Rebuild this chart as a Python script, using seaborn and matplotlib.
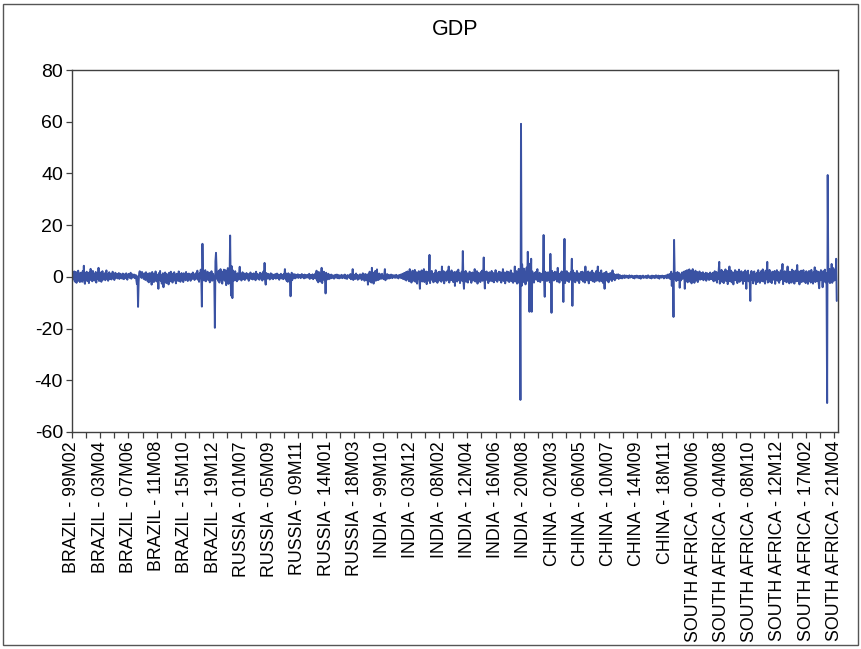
# GDP panel series (BRICS), EViews-style stacked line chart
import numpy as np
import pandas as pd
import matplotlib
matplotlib.use("Agg")
import matplotlib.pyplot as plt
from matplotlib.patches import Rectangle
from matplotlib.ticker import MultipleLocator
import seaborn as sns

# --- data: monthly values, 99M02 .. 21M08 for each country -------------------

brazil = [
    0.8, -1.2, 1.5, -0.6, 2.1, -1.8, 0.4, 1.9, -2.3, 1.1,
    -0.7, 2.4, -1.5, 0.9, -2.0, 1.6, -0.3, 1.2, -1.9, 2.2,
    -1.0, 4.3, -2.1, -2.7, 1.4, -0.8, 2.0, -1.6, 0.5, 1.3,
    -2.4, 1.8, -0.9, 3.1, -1.3, 0.7, -1.7, 2.3, -0.5, 1.0,
    -1.4, 0.6, 1.9, -2.2, 0.3, 1.5, -0.8, 3.5, -1.6, 0.9,
    -0.4, 1.7, -1.9, 0.8, 2.2, -1.1, 0.5, -0.6, 1.4, -1.3,
    0.9, 2.5, -0.7, 1.1, -1.5, 0.4, 1.8, -0.9, 0.6, 1.2,
    -1.0, 0.3, 2.0, -0.5, 1.3, -1.2, 0.8, 1.6, -0.4, 0.7,
    1.1, -0.6, 0.9, 1.5, -0.8, 0.5, 1.2, -0.3, 0.8, -0.7,
    1.3, 0.4, -0.9, 1.0, 0.6, -0.5, 1.4, 0.2, -1.1, 0.9,
    0.5, 1.2, -0.4, 0.8, 1.6, -0.7, 0.3, 1.0, -0.2, 0.6,
    0.9, -0.5, 0.4, 0.7, -1.3, -2.8, 0.2, -11.6, -2.0, 1.5,
    2.2, 0.8, 1.6, -0.4, 1.9, 0.5, 1.1, -0.8, 1.4, 0.6,
    -1.2, 1.8, -0.6, 0.9, -1.7, 1.3, -2.1, 0.7, 1.5, -1.4,
    0.6, -3.0, 1.9, -0.9, 1.2, -2.0, 0.8, -1.6, 2.1, -0.7,
    1.0, -1.9, 0.4, -4.6, 1.5, -0.8, 2.3, -1.5, 0.6, -2.6,
    -0.4, 1.4, -4.0, 0.9, -1.8, 1.7, -0.6, -2.4, 1.1, -1.2,
    0.7, -2.9, 1.6, -0.5, -1.7, 2.0, -1.1, 0.4, -2.2, 1.3,
    -0.9, 1.8, -1.4, 0.5, -2.5, 1.2, -0.3, 0.9, -1.6, 2.1,
    -0.7, 1.0, -1.9, 0.6, 1.5, -1.2, 0.3, -2.0, 1.4, -0.6,
    0.8, -1.3, 1.9, -0.5, 1.1, -1.6, 0.7, 1.3, -0.9, 0.4,
    -1.5, 1.2, 0.6, -0.8, 1.7, -0.4, 0.9, -1.2, 0.5, 1.4,
    -0.7, 1.0, 2.4, -1.1, 0.6, -1.9, 1.5, -0.5, 2.8, -1.3,
    -11.5, 12.8, -0.6, 1.8, -1.4, 0.9, 2.6, -1.7, 1.1, -0.8,
    2.0, -1.2, 0.5, 1.6, -2.1, 1.3, -0.4, 2.2, -1.5, 0.8,
    1.2, -0.9, -1.8, -19.7, 6.0, 9.3, 3.1, -0.8, 1.9, -1.6,
    2.4, -2.2, 1.0, 3.0, -1.3, 2.1, -2.6, 1.5, -0.7, 2.8,
    -1.4,
]

russia = [
    -1.5, 2.6, -3.2, 1.8, -0.9, 3.4, -2.7, 1.2, -1.8, 16.0,
    -2.4, -7.3, 4.1, -8.2, 2.5, -1.6, 1.9, -0.8, 2.2, -1.3,
    0.9, -1.7, 1.4, 0.3, -1.1, 1.6, 3.9, -0.6, 1.0, -1.4,
    0.7, 1.8, -0.9, 0.4, 1.3, -1.2, 0.8, -0.3, 1.5, -0.7,
    0.5, 1.1, -1.5, 0.9, -0.4, 1.7, -0.8, 0.6, 1.2, -1.0,
    0.3, 1.4, -0.6, 0.8, -1.3, 2.0, -0.5, 0.7, 1.1, -0.9,
    0.4, -1.1, 1.6, -0.3, 0.9, 1.3, -1.4, 0.6, 2.1, -0.7,
    5.4, -1.2, -3.0, 1.5, -0.8, 0.6, 1.2, -0.5, 0.9, -1.0,
    0.7, 1.4, -0.6, 0.3, 1.0, -0.9, 0.5, 0.8, -0.4, 1.1,
    -0.7, 0.6, 1.3, -0.5, 0.4, 0.9, -1.1, 0.7, 0.2, 1.2,
    -0.6, 0.8, 0.4, -0.9, 1.1, 0.5, 3.0, -0.8, 1.3, -1.5,
    0.6, -1.9, 1.4, -0.7, 0.9, -2.3, -7.5, -1.8, 1.6, -1.2,
    0.8, -0.5, 1.1, 0.3, -0.6, 0.9, 0.4, -0.3, 0.7, 1.0,
    -0.4, 0.6, 0.2, 0.8, -0.5, 0.5, 1.1, -0.2, 0.4, 0.7,
    -0.6, 0.9, 0.3, -0.4, 0.6, 0.2, 0.8, -0.3, 0.5, 1.2,
    -0.8, 0.4, 0.7, -0.5, 0.3, 1.0, -0.9, 0.6, 0.2, -0.4,
    1.3, -0.7, 2.4, -1.5, 0.8, -2.1, 1.9, -0.6, 1.2, -1.8,
    0.9, 3.5, -2.4, 1.4, -0.8, 2.0, -1.3, 0.7, -6.4, 1.6,
    -1.1, 0.8, -0.5, 1.2, -0.9, 0.4, 0.7, -0.6, 0.9, 0.3,
    -0.4, 0.6, 0.2, -0.7, 0.5, 0.8, -0.3, 0.4, 0.9, -0.5,
    0.3, 0.7, -0.6, 0.5, 0.2, -0.4, 0.8, 0.3, -0.5, 0.6,
    0.4, -0.3, 0.9, -0.6, 0.5, 0.2, -0.8, 0.7, 0.4, -0.2,
    0.6, -0.5, 1.1, -0.9, 0.8, -0.3, 3.0, -1.2, 0.9, -0.6,
    0.5, -0.8, 1.3, -0.4, 0.7, -1.1, 0.6, 0.3, -0.7, 1.0,
    -0.5, 0.8, -1.2, 0.6, 1.4, -0.9, 0.4, -1.5, 1.1, -0.6,
    0.9, -1.3, 0.7, -3.0, 1.2, -1.8, 2.0, -0.7, 1.5, -2.2,
    3.5, -1.4, 0.8, -2.6, 1.7, -0.9, 2.3, -1.5, 0.6, 2.9,
    -1.2,
]

india = [
    0.6, -1.1, 1.3, -0.4, 0.9, -0.8, 0.5, 1.2, -0.6, 0.3,
    -0.9, 1.0, 3.0, -1.3, 0.7, -0.5, 1.1, -0.7, 0.4, 0.8,
    -0.6, 0.5, -0.3, 0.9, 0.2, -0.5, 0.7, -0.2, 0.4, 0.6,
    -0.4, 0.3, 0.8, -0.3, 0.5, 0.1, -0.6, 0.7, 0.3, -0.2,
    0.9, -0.5, 0.4, 1.2, -0.8, 0.6, 1.5, -1.0, 0.3, 1.8,
    -1.4, 0.7, 2.1, -0.9, 1.3, -1.7, 3.0, -0.6, 1.6, -2.2,
    0.8, 2.4, -1.5, 1.1, -0.4, 2.7, -1.9, 0.6, 1.8, -2.6,
    1.2, -0.8, 2.2, -1.3, -4.6, 1.7, -0.5, 2.5, -1.8, 0.9,
    -1.2, 3.0, -2.0, 1.4, -0.7, 2.1, -2.8, 0.5, 1.9, -1.5,
    0.7, 8.5, -2.4, 1.6, -1.1, 2.3, -0.6, 1.2, -2.1, 0.8,
    1.5, -1.7, 2.6, -0.9, 1.1, -2.3, 0.4, 1.9, -1.4, 2.0,
    -0.8, 1.3, -1.9, 4.0, -1.2, 0.6, 2.2, -2.5, 1.0, -0.7,
    1.8, -1.5, 0.9, 2.4, -1.0, 4.0, -2.2, 0.7, 1.6, -1.3,
    2.5, -0.9, 1.2, -2.0, 0.8, 1.9, -3.5, 1.4, -0.6, 2.1,
    -1.8, 0.5, 2.8, -1.2, 1.5, -2.4, 0.9, -0.5, 2.0, -1.6,
    10.0, -1.4, -4.6, 1.8, -0.8, 2.3, -1.9, 0.6, 1.4, -2.2,
    0.9, -1.1, 2.0, -0.6, 1.5, -2.3, 0.8, 1.7, -1.4, 0.5,
    -1.2, 3.0, -1.8, 1.1, -0.7, 2.2, -2.6, 0.9, 1.6, -1.3,
    0.6, -2.0, 1.9, -0.9, 2.4, -1.5, 0.8, 7.5, -0.6, -4.5,
    1.7, -1.2, 2.1, -0.8, 1.3, -2.4, 0.7, 1.8, -1.6, 0.9,
    -1.0, 2.3, -1.7, 0.6, 1.5, -2.1, 1.0, -0.5, 2.6, -1.4,
    0.8, -1.9, 1.4, -0.7, 2.0, -1.3, 0.5, 1.8, -2.2, 1.1,
    -0.6, 3.0, -1.6, 0.9, 1.7, -2.5, 1.2, -0.8, 2.1, -1.5,
    0.7, 1.9, -2.0, 1.3, -0.9, 2.5, -1.7, 0.6, 1.4, -2.3,
    1.0, -1.2, 4.0, -1.8, 0.8, 2.2, -2.6, 1.5, -0.7, 3.1,
    -2.4, 1.2, -47.6, 59.2, -3.5, 4.8, -2.1, 1.6, 3.2, -1.8,
    2.0, -2.9, 1.4, 3.6, -1.5, 9.7, 2.4, 5.1, -13.5, 3.0,
    -2.2,
]

china = [
    7.0, -13.5, 2.1, -1.4, 0.8, -2.2, 1.5, -0.6, 1.9, -1.1,
    0.5, 3.0, -1.7, 0.9, -0.4, 1.6, -2.0, 0.7, 1.2, -0.8,
    -1.3, 2.4, 16.2, -1.9, -7.7, 2.0, -0.9, 1.4, -1.6, 0.8,
    1.8, -1.2, 0.6, -2.1, 8.9, 1.1, -13.9, 2.3, -0.7, 1.5,
    -1.4, 0.9, 2.0, -1.0, 0.5, 1.7, -1.8, 3.5, -0.6, 1.2,
    -2.2, 0.8, 1.4, -0.9, 2.1, -1.5, 0.6, -9.7, 1.9, 14.7,
    -2.4, 1.3, -0.8, 2.2, -1.6, 0.9, 1.5, -2.0, 0.7, -1.1,
    1.8, -0.6, 7.0, -11.2, 2.5, -1.3, 0.8, 1.6, -2.1, 1.0,
    -0.7, 2.3, -1.5, 0.6, 1.4, -2.4, 1.1, -0.5, 1.9, -1.2,
    0.8, 2.0, -1.8, 0.5, 1.3, -2.2, 4.0, -0.9, 1.6, -1.4,
    0.7, 2.1, -2.5, 1.2, -0.6, 1.8, -1.3, 0.9, 2.4, -1.7,
    0.5, 1.5, -2.0, 0.8, -0.9, 2.2, -1.5, 1.0, 4.0, -1.2,
    0.6, -1.8, 1.7, -0.7, 2.5, -1.6, 0.9, -2.3, 1.4, -0.5,
    -4.6, 1.6, -0.8, 2.0, -1.4, 0.7, 1.2, -2.1, 0.9, -0.6,
    1.5, -1.1, 0.8, -1.6, 2.5, -0.9, 0.6, 1.1, -1.3, 0.5,
    -0.7, 0.9, -0.4, 0.6, 1.0, -0.8, 0.3, 0.7, -0.5, 0.4,
    0.2, -0.6, 0.5, 0.1, -0.3, 0.6, -0.4, 0.3, 0.5, -0.2,
    0.1, 0.4, -0.5, 0.3, 0.6, -0.3, 0.2, -0.1, 0.5, 0.0,
    -0.4, 0.3, 0.1, -0.6, 0.4, 0.2, -0.2, 0.5, -0.3, 0.1,
    0.3, -0.5, 0.2, 0.4, -0.7, 0.1, 0.3, -0.2, 0.5, -0.4,
    0.2, 0.0, -0.3, 0.4, 0.1, -0.5, 0.3, 0.6, -0.2, 0.1,
    -0.4, 0.3, 0.2, -0.6, 0.5, 0.0, -0.3, 0.4, 0.1, -0.5,
    0.3, 0.6, -0.2, 0.1, -0.4, 0.5, 0.2, -0.7, 0.4, 0.0,
    0.2, -0.3, 0.5, -0.1, 0.3, -0.6, 0.4, 0.1, -0.2, 0.6,
    -0.5, 0.3, 0.9, -0.4, 0.2, 1.1, -0.8, 0.5, 2.0, -3.5,
    0.6, 1.2, -15.5, 14.3, 1.8, -0.9, 1.4, -1.6, 0.7, 1.9,
    -1.2, 0.8, 1.5, -4.2, 0.9, -1.4, 0.6, 1.7, -0.8, 0.4,
    2.0,
]

south_africa = [
    1.2, -4.6, 2.3, -1.5, 0.8, 2.6, -2.1, 1.4, -0.7, 2.9,
    -1.8, 0.6, 2.2, -2.5, 1.1, 3.0, -1.2, 0.9, -2.3, 1.7,
    2.4, -1.4, 0.7, 1.9, -2.0, 1.3, -0.6, 2.1, -1.1, 0.8,
    1.5, -0.9, 0.4, 1.8, -1.3, 0.6, 1.1, -0.8, 1.6, -1.5,
    0.9, 1.4, -0.7, 1.0, -1.2, 0.5, 1.7, -0.9, 1.2, 0.3,
    -1.0, 1.6, -1.7, 0.8, 2.2, -1.4, 0.6, 1.9, -2.2, 1.3,
    -0.8, 2.5, 5.8, -2.6, 1.4, -1.0, 2.7, -1.9, 0.9, 2.0,
    -2.4, 1.6, -0.7, 2.9, -1.6, 0.8, 2.3, -2.8, 1.2, -0.5,
    4.0, -1.7, 1.1, 2.4, -2.1, 0.7, 1.8, -2.9, 1.5, -0.9,
    2.6, -1.3, 0.5, 2.1, -2.4, 1.7, -0.8, 2.8, -1.9, 1.0,
    -1.5, 2.2, -0.6, 1.4, -2.7, 1.9, 0.4, -1.6, 2.5, -1.2,
    -4.6, 1.8, -0.9, 2.4, -1.7, 0.6, -2.0, -9.3, 1.5, 2.3,
    -1.1, 1.6, -2.5, 0.8, 2.1, -1.4, 1.2, -2.8, 0.9, 1.7,
    -2.0, 2.6, -0.7, 1.3, -2.3, 1.0, 2.2, -1.6, 0.5, 2.9,
    -1.8, 0.9, 1.5, -2.6, 2.4, -1.0, 0.7, 5.8, -2.2, 1.3,
    -0.8, 2.7, -1.9, 1.1, 0.6, -2.4, 2.0, -1.2, 1.8, -0.6,
    2.3, -2.7, 1.4, -0.9, 2.6, -1.5, 0.8, 1.9, -2.3, 1.0,
    -1.3, 2.5, -0.7, 1.6, 5.0, -2.8, 1.2, -1.6, 2.2, -0.5,
    1.7, -2.1, 0.9, 4.0, -1.8, 1.3, -2.5, 2.0, -0.8, 1.5,
    -2.2, 2.8, -1.1, 0.7, 2.3, -2.6, 1.4, -0.9, 2.5, -1.7,
    4.6, -1.4, 0.8, 2.1, -2.9, 1.6, -0.6, 2.4, -2.0, 1.1,
    -0.9, 2.6, -1.8, 1.3, 0.5, -2.4, 2.2, -1.1, 1.7, -2.7,
    1.0, 2.3, -1.5, 0.8, -2.2, 2.7, -0.8, 1.5, -2.6, 1.9,
    -1.2, 3.7, -2.0, 1.1, 2.4, -1.7, 0.6, 2.0, -2.5, -4.4,
    1.8, -1.3, 2.6, -0.9, 1.4, -4.0, 2.2, -1.6, 0.9, 2.8,
    -2.1, 1.5, -3.2, -48.8, 39.4, 2.6, -1.8, 3.1, -2.4, 1.7,
    -1.0, 5.0, -2.3, 1.9, 3.4, -1.5, 2.7, 0.8, -1.2, 7.0,
    -9.3,
]

tick_labels = [
    "BRAZIL - 99M02", "BRAZIL - 03M04", "BRAZIL - 07M06", "BRAZIL - 11M08",
    "BRAZIL - 15M10", "BRAZIL - 19M12", "RUSSIA - 01M07", "RUSSIA - 05M09",
    "RUSSIA - 09M11", "RUSSIA - 14M01", "RUSSIA - 18M03", "INDIA - 99M10",
    "INDIA - 03M12", "INDIA - 08M02", "INDIA - 12M04", "INDIA - 16M06",
    "INDIA - 20M08", "CHINA - 02M03", "CHINA - 06M05", "CHINA - 10M07",
    "CHINA - 14M09", "CHINA - 18M11", "SOUTH AFRICA - 00M06", "SOUTH AFRICA - 04M08",
    "SOUTH AFRICA - 08M10", "SOUTH AFRICA - 12M12", "SOUTH AFRICA - 17M02", "SOUTH AFRICA - 21M04",
]

gdp = brazil + russia + india + china + south_africa
df = pd.DataFrame({"obs": np.arange(len(gdp)), "GDP": gdp})

# --- plot ---------------------------------------------------------------------

sns.set_theme(style="white")
plt.rcParams["font.family"] = ["Liberation Sans", "DejaVu Sans"]
plt.rcParams["axes.unicode_minus"] = False
plt.rcParams["text.color"] = "black"
plt.rcParams["xtick.labelcolor"] = "black"
plt.rcParams["ytick.labelcolor"] = "black"

fig = plt.figure(figsize=(8.62, 6.49), dpi=100)
ax = fig.add_axes([0.0835, 0.3344, 0.8885, 0.5576])

sns.lineplot(data=df, x="obs", y="GDP", color="#3a52a3", linewidth=1.4, ax=ax)

ax.set_xlim(0, len(gdp) + 1)
ax.set_ylim(-60, 80)
ax.set_yticks(range(-60, 81, 20))
ax.set_xticks(range(0, 50 * len(tick_labels), 50))
ax.set_xticklabels(tick_labels, rotation=90, fontsize=12.8)
ax.xaxis.set_minor_locator(MultipleLocator(25))
ax.tick_params(axis="y", labelsize=14, length=4.5, width=0.9, color="#404040", pad=2, left=True)
ax.tick_params(axis="x", which="both", length=4.5, width=0.9, color="#404040", pad=2, bottom=True)
ax.set_xlabel("")
ax.set_ylabel("")
ax.set_title("GDP", fontsize=15.5, color="black", pad=25)
for s in ax.spines.values():
    s.set_color("#404040")
    s.set_linewidth(1.0)

# outer frame round the whole picture
fig.patches.append(Rectangle((0.0035, 0.006), 0.992, 0.988, transform=fig.transFigure,
                             fill=False, edgecolor="#555555", linewidth=1.0))

fig.savefig("out.png", dpi=100)
